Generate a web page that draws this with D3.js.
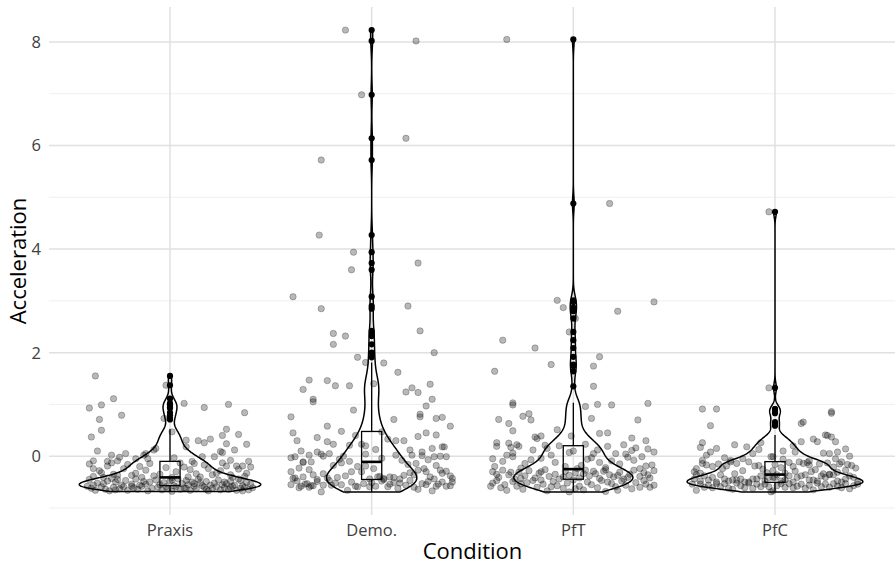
<!DOCTYPE html>
<html>
<head>
<meta charset="utf-8">
<script src="https://cdn.jsdelivr.net/npm/d3@7"></script>
<style>
  body { margin: 0; background: #fff; }
  text { font-family: "Open Sans", "Noto Sans", sans-serif; }
</style>
</head>
<body>
<div id="chart"></div>
<script>
// Violin + box + jitter: Acceleration by Condition

const categories = ["Praxis", "Demo.", "PfT", "PfC"];
const yMajorTicks = [0, 2, 4, 6, 8];
const yMinorTicks = [-1, 1, 3, 5, 7];

// each point: [jitter offset in category units, acceleration]
const praxisPoints = [
    [-0.37,1.55],[-0.02,1.37],[-0.28,1.11],[0.07,1.02],[0.29,1.00],[-0.34,0.99],[-0.40,0.93],[0.17,0.94],[0.37,0.84],[-0.24,0.79],
    [-0.03,0.73],[-0.35,0.71],[0.28,0.52],[-0.34,0.50],[0.01,0.47],[0.34,0.42],[0.26,0.40],[-0.39,0.37],[0.20,0.33],[0.08,0.31],
    [0.14,0.30],[0.17,0.26],[0.28,0.24],[0.38,0.23],[0.08,0.18],[-0.07,0.15],[0.32,0.12],[-0.08,0.12],[-0.36,0.10],[0.25,0.09],
    [0.26,0.07],[-0.12,0.05],[-0.22,0.05],[-0.29,0.02],[-0.13,0.02],[0.02,-0.03],[0.22,-0.01],[0.16,-0.01],[-0.25,-0.02],[-0.17,-0.05],
    [-0.11,-0.05],[0.30,-0.08],[-0.38,-0.09],[-0.26,-0.09],[0.39,-0.10],[0.11,-0.10],[-0.31,-0.10],
    [-0.38,-0.24],[-0.38,-0.39],[-0.34,-0.32],[-0.31,-0.19],[-0.23,-0.24],[-0.26,-0.37],[-0.17,-0.33],[-0.10,-0.14],[0.07,-0.21],[0.12,-0.14],
    [0.17,-0.17],[0.23,-0.33],[0.15,-0.40],[0.09,-0.40],[0.28,-0.19],[0.33,-0.19],[0.36,-0.19],[0.38,-0.33],[-0.19,-0.37],[-0.14,-0.41],
    [-0.40,-0.15],[-0.35,-0.28],[-0.29,-0.13],[-0.21,-0.16],[-0.12,-0.27],[-0.05,-0.35],[-0.02,-0.22],[0.03,-0.30],[0.05,-0.13],[0.10,-0.26],
    [0.19,-0.24],[0.21,-0.36],[0.25,-0.28],[0.30,-0.36],[0.34,-0.25],[0.40,-0.21],[-0.28,-0.35],[-0.08,-0.38],[0.01,-0.41],[0.13,-0.34],
    [0.26,-0.13],[-0.33,-0.41],[0.31,-0.41],[-0.15,-0.20],[0.37,-0.39],
    [-0.40,-0.45],[-0.36,-0.52],[-0.33,-0.53],[-0.29,-0.43],[-0.27,-0.50],[-0.24,-0.56],[-0.22,-0.47],[-0.19,-0.54],[-0.17,-0.44],[-0.15,-0.56],
    [-0.13,-0.49],[-0.10,-0.50],[-0.07,-0.46],[-0.05,-0.55],[-0.03,-0.51],[0.00,-0.48],[0.02,-0.57],[0.04,-0.44],[0.06,-0.53],[0.08,-0.47],
    [0.09,-0.55],[0.11,-0.50],[0.12,-0.53],[0.14,-0.45],[0.16,-0.57],[0.18,-0.49],[0.20,-0.56],[0.22,-0.52],[0.24,-0.46],[0.26,-0.55],
    [0.28,-0.53],[0.30,-0.48],[0.32,-0.56],[0.34,-0.44],[0.36,-0.57],[0.38,-0.51],[0.40,-0.54],[-0.38,-0.56],[-0.31,-0.48],[-0.26,-0.45],
    [-0.12,-0.54],[0.01,-0.46],[0.15,-0.52],[0.27,-0.50],[0.35,-0.47],
    [-0.39,-0.62],[-0.37,-0.66],[-0.34,-0.59],[-0.32,-0.64],[-0.30,-0.67],[-0.28,-0.60],[-0.25,-0.63],[-0.23,-0.59],[-0.21,-0.66],[-0.18,-0.61],
    [-0.16,-0.64],[-0.14,-0.58],[-0.11,-0.67],[-0.09,-0.62],[-0.06,-0.60],[-0.04,-0.65],[-0.01,-0.63],[0.01,-0.68],[0.03,-0.59],[0.05,-0.64],
    [0.07,-0.61],[0.10,-0.66],[0.12,-0.58],[0.13,-0.63],[0.17,-0.60],[0.19,-0.67],[0.21,-0.62],[0.23,-0.59],[0.25,-0.65],[0.27,-0.61],
    [0.29,-0.64],[0.31,-0.58],[0.33,-0.66],[0.35,-0.62],[0.37,-0.60],[0.39,-0.65],[0.41,-0.61],[-0.41,-0.58],[-0.27,-0.65],[-0.19,-0.58],
    [-0.02,-0.59],[0.08,-0.62],[0.18,-0.64],[0.30,-0.60],[0.36,-0.67]
];

const demoPoints = [
    [-0.13,8.23],[0.22,8.02],[-0.05,6.98],[0.17,6.14],[-0.25,5.72],[-0.26,4.27],[-0.09,3.94],[0.23,3.73],[-0.10,3.60],[-0.39,3.08],
    [0.18,2.90],[-0.25,2.85],[0.24,2.42],[-0.19,2.37],[-0.13,2.32],[-0.19,2.16],[0.31,2.00],[-0.07,1.91],[-0.03,1.81],[0.06,1.80],
    [0.13,1.62],[-0.31,1.47],[-0.22,1.46],[0.01,1.40],[0.29,1.39],[-0.18,1.36],[-0.11,1.36],[0.20,1.32],[-0.34,1.29],[0.17,1.24],
    [0.23,1.23],[0.30,1.10],[-0.29,1.10],[-0.29,1.05],[0.27,0.97],[-0.09,0.89],[0.24,0.81],[-0.40,0.76],[0.24,0.76],[0.35,0.75],
    [0.32,0.73],[0.11,0.71],[-0.22,0.58],[0.39,0.58],[-0.15,0.48],[0.05,0.47],
    [-0.39,0.45],[0.27,0.45],[0.32,0.41],[0.23,0.38],[-0.27,0.36],[-0.37,0.30],[0.12,0.30],[0.16,0.30],[-0.22,0.28],[-0.19,0.23],
    [-0.05,0.23],[-0.11,0.21],[-0.03,0.20],[0.35,0.18],[0.36,0.18],[0.30,0.15],[0.19,0.12],[-0.35,0.10],[0.25,0.08],[-0.27,0.08],
    [-0.21,0.05],[-0.25,0.04],[-0.03,0.04],[-0.31,0.02],[0.12,0.02],[0.20,0.02],[0.25,0.01],[-0.24,0.00],[-0.14,0.00],[0.34,0.00],
    [-0.38,-0.01],[0.31,-0.01],[0.37,-0.01],[-0.40,-0.03],[0.08,0.33],[-0.08,0.40],[0.02,0.13],[-0.16,-0.06],[0.15,-0.08],[-0.30,-0.11],
    [-0.34,-0.11],[0.05,-0.04],[0.28,-0.07],[-0.11,-0.10],
    [-0.34,-0.12],[-0.03,-0.19],[0.01,-0.24],[0.22,-0.14],[-0.36,-0.23],[-0.40,-0.30],[-0.34,-0.40],[-0.29,-0.36],[-0.24,-0.34],[-0.19,-0.18],
    [-0.17,-0.41],[-0.10,-0.30],[-0.07,-0.20],[-0.05,-0.30],[0.04,-0.39],[0.06,-0.43],[0.09,-0.40],[0.16,-0.37],[0.19,-0.32],[0.23,-0.27],
    [0.26,-0.24],[0.27,-0.30],[0.29,-0.40],[0.32,-0.18],[0.34,-0.27],[0.35,-0.33],[0.37,-0.29],[0.06,-0.45],[-0.38,-0.42],[-0.31,-0.26],
    [-0.22,-0.42],[-0.13,-0.38],[-0.01,-0.44],[0.11,-0.41],[0.14,-0.44],[0.21,-0.36],[0.31,-0.44],[0.39,-0.38],[-0.27,-0.45],[-0.15,-0.13],
    [0.03,-0.40],[0.18,-0.16],[-0.39,-0.43],[0.40,-0.43],
    [0.40,-0.50],[-0.35,-0.58],[-0.32,-0.53],[-0.30,-0.57],[-0.25,-0.69],[-0.24,-0.56],[-0.20,-0.56],[-0.15,-0.55],[-0.10,-0.50],[-0.07,-0.59],
    [-0.01,-0.59],[0.08,-0.59],[0.14,-0.52],[0.17,-0.56],[0.23,-0.64],[0.27,-0.55],[0.32,-0.58],[0.39,-0.57],[0.35,-0.50],[-0.33,-0.54],
    [-0.31,-0.60],[-0.29,-0.57],[-0.37,-0.48],[-0.40,-0.55],[-0.27,-0.49],[-0.18,-0.52],[-0.12,-0.66],[-0.04,-0.53],[0.02,-0.58],[0.05,-0.48],
    [0.11,-0.51],[0.19,-0.47],[0.21,-0.60],[0.25,-0.53],[0.30,-0.67],[0.33,-0.54],[0.37,-0.58],[-0.21,-0.47],[-0.08,-0.58],[0.00,-0.51],
    [0.13,-0.62],[0.28,-0.49],[-0.36,-0.61],[0.09,-0.54]
];

const pftPoints = [
    [-0.33,8.05],[0.18,4.88],[-0.08,3.01],[-0.05,2.87],[0.22,2.80],[0.40,2.98],[0.01,2.66],[-0.02,2.40],[-0.35,2.24],[-0.19,2.09],
    [-0.39,1.64],[-0.11,1.77],[0.13,1.92],[0.10,1.74],[0.10,1.35],[-0.30,1.03],[-0.30,0.99],[-0.22,0.82],[-0.25,0.77],[-0.21,0.70],
    [-0.37,0.71],[-0.32,0.63],[-0.30,0.49],[-0.19,0.37],[-0.16,0.39],[-0.08,0.51],[-0.01,0.39],[0.06,0.96],[0.12,1.00],[0.19,0.99],
    [0.09,0.73],[0.37,1.02],[0.32,0.70],[0.13,0.44],[0.17,0.45],[0.29,0.35],[0.36,0.30],[-0.38,0.26],[-0.32,0.25],[-0.18,0.34],
    [0.25,0.22],[-0.28,0.22],[-0.14,0.21],[0.06,0.23],
    [-0.38,0.19],[-0.31,0.17],[-0.27,0.19],[-0.30,0.06],[-0.30,-0.01],[-0.40,-0.05],[-0.20,0.12],[-0.07,0.20],[-0.11,0.02],[0.10,0.05],
    [0.13,-0.12],[0.17,0.19],[0.31,0.16],[0.37,0.14],[0.39,-0.17],[0.21,0.05],[0.26,0.04],[0.34,-0.01],[0.27,-0.02],[0.30,-0.08],
    [-0.35,-0.10],[-0.24,-0.14],[-0.16,-0.04],[-0.04,-0.20],[0.00,0.10],[0.07,-0.06],[0.16,-0.22],[0.23,-0.15],[0.33,-0.24],[0.40,0.08],
    [-0.39,-0.20],[-0.26,-0.23],[-0.13,0.15],[-0.09,-0.12],[0.04,-0.18],[0.12,0.12],[0.19,-0.09],[0.29,0.11],[0.36,-0.19],[-0.33,0.02],
    [-0.21,-0.07],[0.02,-0.24],[0.09,-0.03],[-0.02,0.07],
    [-0.40,-0.30],[-0.37,-0.41],[-0.35,-0.27],[-0.32,-0.36],[-0.29,-0.44],[-0.27,-0.31],[-0.24,-0.38],[-0.22,-0.28],[-0.19,-0.42],[-0.17,-0.33],
    [-0.14,-0.26],[-0.12,-0.39],[-0.09,-0.35],[-0.07,-0.44],[-0.04,-0.29],[-0.02,-0.37],[0.01,-0.32],[0.03,-0.42],[0.06,-0.27],[0.08,-0.38],
    [0.11,-0.34],[0.13,-0.43],[0.15,-0.29],[0.18,-0.36],[0.20,-0.40],[0.23,-0.31],[0.25,-0.44],[0.28,-0.35],[0.30,-0.27],[0.33,-0.39],
    [0.35,-0.32],[0.38,-0.42],[0.40,-0.28],[-0.38,-0.35],[-0.26,-0.43],[-0.16,-0.30],[-0.05,-0.40],[0.05,-0.34],[0.16,-0.26],[0.27,-0.41],
    [0.37,-0.36],[-0.31,-0.31],[0.10,-0.29],[0.22,-0.37],
    [-0.40,-0.52],[-0.33,-0.66],[0.40,-0.56],[0.29,-0.63],[0.33,-0.60],[-0.02,-0.69],[-0.38,-0.47],[-0.36,-0.61],[-0.34,-0.55],[-0.30,-0.49],
    [-0.28,-0.58],[-0.25,-0.64],[-0.23,-0.51],[-0.20,-0.47],[-0.18,-0.60],[-0.15,-0.54],[-0.13,-0.67],[-0.10,-0.49],[-0.08,-0.57],[-0.05,-0.62],
    [-0.03,-0.52],[0.00,-0.46],[0.03,-0.58],[0.05,-0.65],[0.07,-0.50],[0.09,-0.55],[0.12,-0.61],[0.14,-0.47],[0.16,-0.68],[0.19,-0.53],
    [0.21,-0.59],[0.24,-0.48],[0.26,-0.56],[0.31,-0.51],[0.35,-0.47],[0.38,-0.60],[-0.26,-0.53],[-0.11,-0.59],[0.01,-0.63],[0.17,-0.50],
    [0.36,-0.54],[-0.41,-0.58],[-0.16,-0.46],[0.22,-0.66]
];

const pfcPoints = [
    [-0.03,4.72],[-0.03,1.32],[-0.36,0.91],[-0.29,0.91],[-0.32,0.59],[0.28,0.83],[0.28,0.86],[0.13,0.63],[0.14,0.66],[0.25,0.41],
    [0.26,0.40],[0.28,0.37],[0.30,0.28],[0.21,0.28],[0.13,0.28],[-0.36,0.26],[-0.37,0.17],[-0.32,0.08],[-0.34,0.02],[-0.29,0.15],
    [-0.14,0.18],[-0.07,0.26],[-0.08,0.13],[0.04,0.10],[0.10,0.08],[0.24,0.06],[0.27,0.05],[0.31,0.08],[0.30,-0.05],[0.37,0.00],
    [-0.36,-0.08],[-0.22,-0.08],[-0.16,-0.05],[-0.01,-0.01],[-0.02,-0.01],[0.19,0.33],[-0.20,0.22],[0.09,0.20],[-0.11,0.05],[0.35,0.14],
    [-0.25,-0.03],[0.04,-0.06],[0.17,-0.09],
    [-0.39,-0.24],[-0.36,-0.14],[-0.26,-0.24],[-0.22,-0.11],[-0.19,-0.14],[-0.13,-0.11],[0.00,-0.16],[0.07,-0.12],[0.12,-0.11],[0.17,-0.17],
    [0.22,-0.15],[0.26,-0.13],[0.29,-0.21],[0.32,-0.15],[0.35,-0.27],[0.38,-0.18],[-0.40,-0.30],[-0.34,-0.17],[-0.31,-0.20],[-0.28,-0.15],
    [-0.16,-0.28],[-0.10,-0.19],[-0.06,-0.25],[-0.04,-0.32],[0.03,-0.22],[0.05,-0.33],[0.10,-0.29],[0.14,-0.14],[0.20,-0.26],[0.24,-0.34],
    [0.31,-0.31],[0.36,-0.16],[0.40,-0.23],[-0.24,-0.19],[-0.08,-0.18],[0.09,-0.20],[0.18,-0.30],[0.27,-0.35],[-0.37,-0.33],[-0.20,-0.34],
    [-0.01,-0.28],[0.16,-0.12],[0.33,-0.11],
    [-0.40,-0.44],[0.21,-0.48],[-0.35,-0.38],[0.05,-0.46],[-0.31,-0.41],[0.33,-0.50],[-0.27,-0.36],[-0.09,-0.44],[-0.23,-0.48],[0.13,-0.38],
    [-0.19,-0.46],[0.39,-0.41],[-0.15,-0.50],[0.27,-0.36],[-0.11,-0.44],[-0.37,-0.48],[-0.07,-0.38],[0.17,-0.46],[-0.03,-0.41],[0.09,-0.50],
    [0.01,-0.36],[-0.25,-0.44],[0.31,-0.48],[0.07,-0.38],[-0.33,-0.46],[0.11,-0.41],[-0.13,-0.50],[0.15,-0.36],[0.35,-0.44],[-0.05,-0.48],
    [0.23,-0.38],[-0.21,-0.46],[0.25,-0.41],[-0.29,-0.50],[0.29,-0.36],[-0.17,-0.44],[0.03,-0.48],[0.37,-0.38],[0.19,-0.46],[-0.01,-0.41],
    [0.41,-0.50],[-0.39,-0.36],[0.00,-0.41],
    [-0.39,-0.66],[-0.37,-0.54],[-0.35,-0.60],[-0.33,-0.56],[-0.31,-0.61],[-0.29,-0.53],[-0.27,-0.59],[-0.25,-0.53],[-0.23,-0.62],[-0.21,-0.64],
    [-0.19,-0.52],[-0.17,-0.57],[-0.15,-0.61],[-0.13,-0.52],[-0.11,-0.62],[-0.09,-0.54],[-0.07,-0.59],[-0.05,-0.54],[-0.03,-0.59],[-0.01,-0.67],
    [0.01,-0.57],[0.03,-0.53],[0.05,-0.60],[0.07,-0.53],[0.09,-0.61],[0.11,-0.58],[0.13,-0.54],[0.15,-0.62],[0.17,-0.56],[0.19,-0.65],
    [0.21,-0.52],[0.23,-0.59],[0.25,-0.54],[0.27,-0.60],[0.29,-0.53],[0.31,-0.58],[0.33,-0.61],[0.35,-0.53],[0.37,-0.63],[0.39,-0.57],
    [-0.41,-0.54],[0.41,-0.54],[-0.02,-0.69]
];

const groupPoints = [praxisPoints, demoPoints, pftPoints, pfcPoints];

const width = 895, height = 565;
const panel = { left: 49, right: 896, top: 7, bottom: 515 };

const svg = d3.select("#chart").append("svg")
    .attr("width", width)
    .attr("height", height)
    .attr("viewBox", `0 0 ${width} ${height}`);

// ---- stats (like stat_ydensity / stat_boxplot) ----
function groupStats(points) {
    const vals = points.map(d => d[1]).sort(d3.ascending);
    const n = vals.length;
    const q1 = d3.quantileSorted(vals, 0.25);
    const med = d3.quantileSorted(vals, 0.5);
    const q3 = d3.quantileSorted(vals, 0.75);
    const iqr = q3 - q1;
    const lo = q1 - 1.5 * iqr, hi = q3 + 1.5 * iqr;
    const inside = vals.filter(v => v >= lo && v <= hi);
    const bw = 0.9 * Math.min(d3.deviation(vals), iqr / 1.34) * Math.pow(n, -0.2);
    const min = vals[0], max = vals[n - 1];
    const grid = d3.range(512).map(i => min + (max - min) * i / 511);
    const dens = grid.map(y => {
        let s = 0;
        for (const v of vals) {
            const u = (y - v) / bw;
            s += Math.exp(-0.5 * u * u);
        }
        return { y, d: s / (n * bw * Math.sqrt(2 * Math.PI)) };
    });
    return {
        q1, med, q3,
        wLo: d3.min(inside), wHi: d3.max(inside),
        outliers: vals.filter(v => v < lo || v > hi),
        dens
    };
}

const stats = groupPoints.map(groupStats);
const maxDens = d3.max(stats, s => d3.max(s.dens, d => d.d));

const allVals = groupPoints.flat().map(d => d[1]);
const [vMin, vMax] = d3.extent(allVals);
const pad = (vMax - vMin) * 0.05;

const x = d3.scalePoint()
    .domain(categories)
    .range([panel.left, panel.right])
    .padding(0.6);
const step = x.step();

const y = d3.scaleLinear()
    .domain([vMin - pad, vMax + pad])
    .range([panel.bottom, panel.top]);

// ---- grid ----
const grid = svg.append("g").attr("class", "grid");
grid.selectAll("line.minor")
    .data(yMinorTicks)
    .join("line")
    .attr("class", "minor")
    .attr("x1", panel.left).attr("x2", panel.right)
    .attr("y1", d => y(d)).attr("y2", d => y(d))
    .attr("stroke", "#ebebeb")
    .attr("stroke-width", 0.8);
grid.selectAll("line.major-y")
    .data(yMajorTicks)
    .join("line")
    .attr("class", "major-y")
    .attr("x1", panel.left).attr("x2", panel.right)
    .attr("y1", d => y(d)).attr("y2", d => y(d))
    .attr("stroke", "#e0e0e0")
    .attr("stroke-width", 1.5);
grid.selectAll("line.major-x")
    .data(categories)
    .join("line")
    .attr("class", "major-x")
    .attr("x1", d => x(d)).attr("x2", d => x(d))
    .attr("y1", panel.top).attr("y2", panel.bottom)
    .attr("stroke", "#e0e0e0")
    .attr("stroke-width", 1.5);

// ---- violins ----
const violinLayer = svg.append("g").attr("class", "violins");
categories.forEach((cat, i) => {
    const cx = x(cat);
    const area = d3.area()
        .y(d => y(d.y))
        .x0(d => cx - 0.45 * step * d.d / maxDens)
        .x1(d => cx + 0.45 * step * d.d / maxDens);
    violinLayer.append("path")
        .datum(stats[i].dens)
        .attr("d", area)
        .attr("fill", "none")
        .attr("stroke", "#000")
        .attr("stroke-width", 1.5)
        .attr("stroke-linejoin", "round");
});

// ---- boxplots ----
const boxLayer = svg.append("g").attr("class", "boxes");
const boxHalf = 0.05 * step;
categories.forEach((cat, i) => {
    const s = stats[i];
    const cx = x(cat);
    const g = boxLayer.append("g");
    g.append("line")
        .attr("x1", cx).attr("x2", cx)
        .attr("y1", y(s.q3)).attr("y2", y(s.wHi))
        .attr("stroke", "#000").attr("stroke-width", 1.3);
    g.append("line")
        .attr("x1", cx).attr("x2", cx)
        .attr("y1", y(s.q1)).attr("y2", y(s.wLo))
        .attr("stroke", "#000").attr("stroke-width", 1.3);
    g.append("rect")
        .attr("x", cx - boxHalf)
        .attr("y", y(s.q3))
        .attr("width", 2 * boxHalf)
        .attr("height", y(s.q1) - y(s.q3))
        .attr("fill", "none")
        .attr("stroke", "#000").attr("stroke-width", 1.3);
    g.append("line")
        .attr("x1", cx - boxHalf).attr("x2", cx + boxHalf)
        .attr("y1", y(s.med)).attr("y2", y(s.med))
        .attr("stroke", "#000").attr("stroke-width", 2.6);
    g.selectAll("circle")
        .data(s.outliers)
        .join("circle")
        .attr("cx", cx)
        .attr("cy", d => y(d))
        .attr("r", 3.1)
        .attr("fill", "#000");
});

// ---- jittered points ----
const pointLayer = svg.append("g").attr("class", "points");
categories.forEach((cat, i) => {
    pointLayer.selectAll(null)
        .data(groupPoints[i])
        .join("circle")
        .attr("cx", d => x(cat) + d[0] * step)
        .attr("cy", d => y(d[1]))
        .attr("r", 3.2)
        .attr("fill", "#000")
        .attr("fill-opacity", 0.28)
        .attr("stroke", "#000")
        .attr("stroke-opacity", 0.3)
        .attr("stroke-width", 0.8);
});

// ---- axes text ----
svg.append("g")
    .selectAll("text")
    .data(yMajorTicks)
    .join("text")
    .attr("x", panel.left - 8)
    .attr("y", d => y(d))
    .attr("dy", "0.36em")
    .attr("text-anchor", "end")
    .attr("font-size", 16.5)
    .attr("fill", "#404040")
    .text(d => d);

svg.append("g")
    .selectAll("text")
    .data(categories)
    .join("text")
    .attr("x", d => x(d))
    .attr("y", panel.bottom + 21)
    .attr("text-anchor", "middle")
    .attr("font-size", 16.5)
    .attr("fill", "#404040")
    .text(d => d);

svg.append("text")
    .attr("x", (panel.left + panel.right) / 2)
    .attr("y", 559)
    .attr("text-anchor", "middle")
    .attr("font-size", 22)
    .attr("fill", "#000")
    .text("Condition");

svg.append("text")
    .attr("transform", `translate(26, ${(panel.top + panel.bottom) / 2}) rotate(-90)`)
    .attr("text-anchor", "middle")
    .attr("font-size", 22)
    .attr("fill", "#000")
    .text("Acceleration");
</script>
</body>
</html>
